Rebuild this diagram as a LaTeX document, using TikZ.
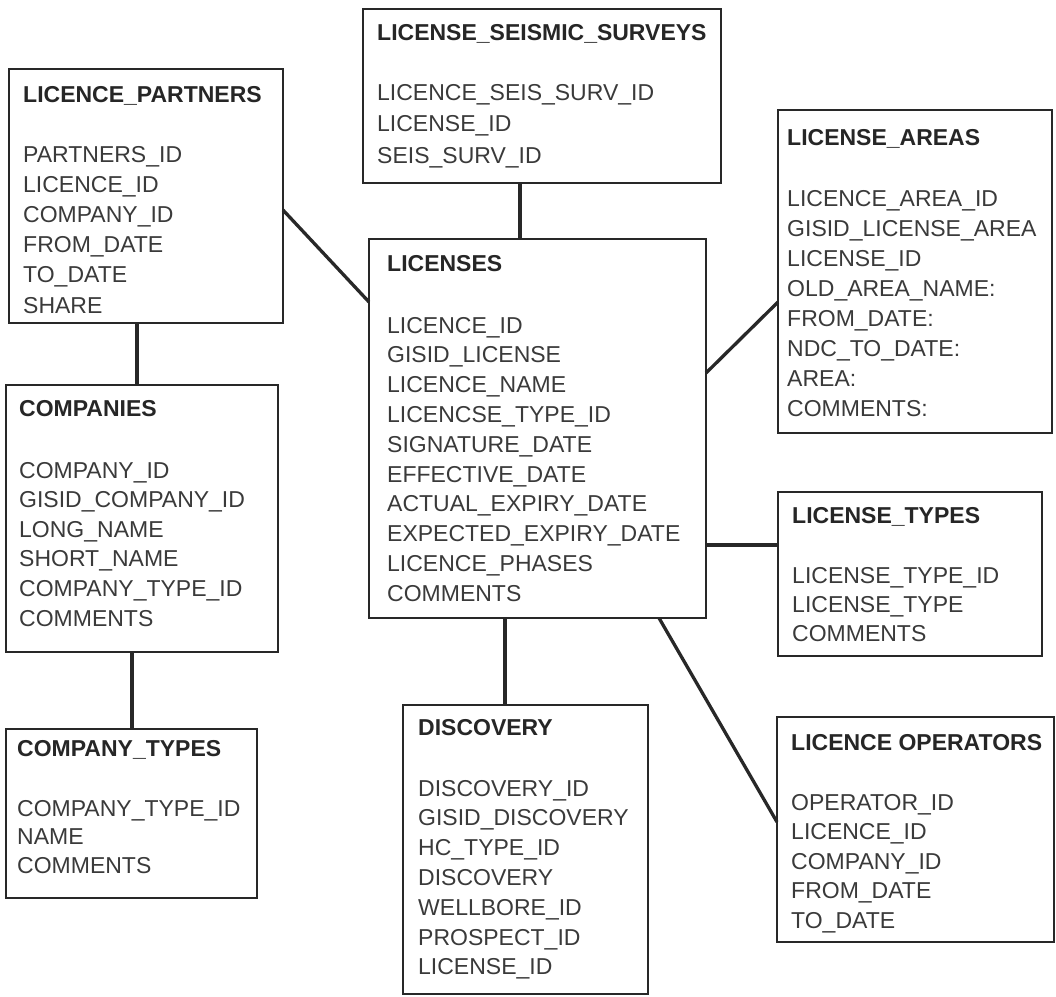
\documentclass[tikz,border=0pt]{standalone}
\usepackage{fontspec}
\setmainfont{Liberation Sans}
\definecolor{linec}{RGB}{40,40,40}
\definecolor{titlec}{RGB}{38,38,38}
\definecolor{rowc}{RGB}{58,58,58}
\tikzset{
  tbl/.style={draw=linec, line width=2.8pt, rectangle, inner sep=0pt, outer sep=0pt},
  conn/.style={draw=linec, line width=3.3pt},
  ttl/.style={anchor=base west, inner sep=0pt, font=\bfseries\fontsize{23}{27}\selectfont, text=titlec},
  rowtxt/.style={anchor=base west, inner sep=0pt, font=\fontsize{23}{27}\selectfont, text=rowc}
}
\newcommand\erbox[5]{%
  \node[tbl, minimum width={(#4-#2)*1pt}, minimum height={(#5-#3)*1pt}] (#1) at ({(#2+#4)/2},{(#3+#5)/2}) {};}
\newcommand\ertext[7]{%
  \node[ttl] (#1-t) at (#2,{#3+8}) {#4};
  \foreach \r [count=\i from 0] in {#7} {\node[rowtxt] (#1-r\i) at (#2,{#5+8+\i*#6}) {\r};}}
\begin{document}
\begin{tikzpicture}[x=1pt,y=-1pt]
\fill[white] (0,0) rectangle (1056,996);
\useasboundingbox (0,0) rectangle (1056,996);

\erbox{partners}{9}{69}{283}{323}
\ertext{partners}{23}{94}{LICENCE\_PARTNERS}{154}{30.2}{PARTNERS\_ID,LICENCE\_ID,COMPANY\_ID,FROM\_DATE,TO\_DATE,SHARE}

\erbox{seismic}{363}{9}{721}{183}
\ertext{seismic}{377}{32}{LICENSE\_SEISMIC\_SURVEYS}{92}{31.5}{LICENCE\_SEIS\_SURV\_ID,LICENSE\_ID,SEIS\_SURV\_ID}

\erbox{areas}{778}{110}{1052}{433}
\ertext{areas}{787}{137}{LICENSE\_AREAS}{198}{30}{LICENCE\_AREA\_ID,GISID\_LICENSE\_AREA,LICENSE\_ID,OLD\_AREA\_NAME:,FROM\_DATE:,NDC\_TO\_DATE:,AREA:,COMMENTS:}

\erbox{licenses}{369}{239}{706}{618}
\ertext{licenses}{387}{263}{LICENSES}{325}{29.8}{LICENCE\_ID,GISID\_LICENSE,LICENCE\_NAME,LICENCSE\_TYPE\_ID,SIGNATURE\_DATE,EFFECTIVE\_DATE,ACTUAL\_EXPIRY\_DATE,EXPECTED\_EXPIRY\_DATE,LICENCE\_PHASES,COMMENTS}

\erbox{companies}{6}{385}{278}{652}
\ertext{companies}{19}{408}{COMPANIES}{470}{29.6}{COMPANY\_ID,GISID\_COMPANY\_ID,LONG\_NAME,SHORT\_NAME,COMPANY\_TYPE\_ID,COMMENTS}

\erbox{ltypes}{778}{492}{1042}{656}
\ertext{ltypes}{792}{515}{LICENSE\_TYPES}{575}{29}{LICENSE\_TYPE\_ID,LICENSE\_TYPE,COMMENTS}

\erbox{ctypes}{6}{729}{257}{898}
\ertext{ctypes}{17}{748}{COMPANY\_TYPES}{808}{28.5}{COMPANY\_TYPE\_ID,NAME,COMMENTS}

\erbox{discovery}{403}{705}{648}{994}
\ertext{discovery}{418}{727}{DISCOVERY}{788}{29.8}{DISCOVERY\_ID,GISID\_DISCOVERY,HC\_TYPE\_ID,DISCOVERY,WELLBORE\_ID,PROSPECT\_ID,LICENSE\_ID}

\erbox{operators}{777}{717}{1054}{942}
\ertext{operators}{791}{742}{LICENCE OPERATORS}{802}{29.5}{OPERATOR\_ID,LICENCE\_ID,COMPANY\_ID,FROM\_DATE,TO\_DATE}

\draw[conn] ([yshift=-14pt]partners.east) -- ([yshift=126.5pt]licenses.west);
\draw[conn] ([xshift=-22pt]seismic.south) -- ([xshift=-22pt]seismic.south |- licenses.north);
\draw[conn] ([xshift=-9pt]partners.south) -- ([xshift=-9pt]partners.south |- companies.north);
\draw[conn] ([xshift=-10pt]companies.south) -- ([xshift=-10pt]companies.south |- ctypes.north);
\draw[conn] ([yshift=55.5pt]licenses.east) -- ([yshift=-30.5pt]areas.west);
\draw[conn] ([yshift=29pt]ltypes.west) -- ([yshift=29pt]ltypes.west -| licenses.east);
\draw[conn] ([xshift=-20.5pt]discovery.north) -- ([xshift=-20.5pt]discovery.north |- licenses.south);
\draw[conn] ([xshift=121.5pt]licenses.south) -- ([yshift=7.5pt]operators.west);
\end{tikzpicture}
\end{document}
